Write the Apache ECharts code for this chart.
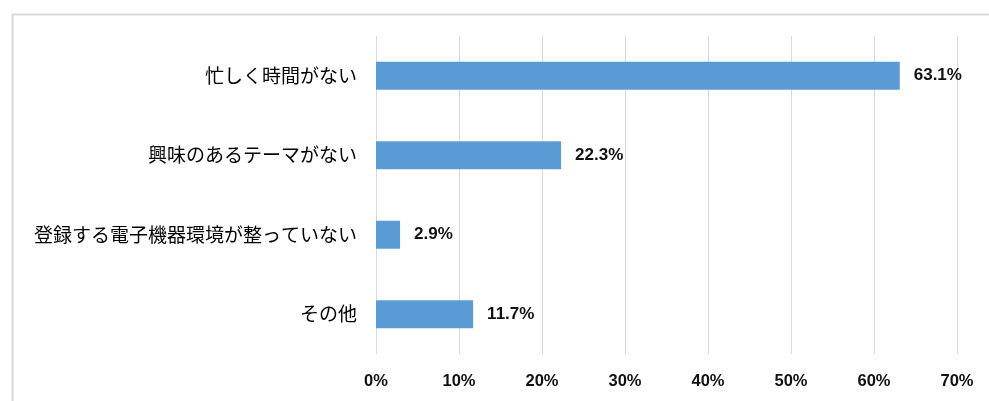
<!DOCTYPE html>
<html><head><meta charset="utf-8">
<script src="https://cdn.jsdelivr.net/npm/echarts@6/dist/echarts.min.js"></script>
<style>html,body{margin:0;padding:0;background:#fff}#c{width:989px;height:401px}</style>
</head><body><div id="c"></div>
<script>
const categories = ['忙しく時間がない','興味のあるテーマがない','登録する電子機器環境が整っていない','その他'];
const values = [63.1, 22.3, 2.9, 11.7];
const tickLabels = ['0%','10%','20%','30%','40%','50%','60%','70%'];

const chart = echarts.init(document.getElementById('c'));
chart.setOption({
  animation: false,
  graphic: [{
    type: 'rect', left: 10, top: 12, shape: {width: 1000, height: 420},
    style: {fill: 'none', stroke: '#d9d9d9', lineWidth: 2}
  }],
  grid: {left: 376, right: 32, top: 36, bottom: 47, containLabel: false},
  xAxis: {
    type: 'value', min: 0, max: 70, interval: 10,
    axisLine: {show: false}, axisTick: {show: false},
    splitLine: {lineStyle: {color: '#d9d9d9', width: 1}},
    axisLabel: {
      formatter: (v) => tickLabels[Math.round(v / 10)],
      fontFamily: 'Liberation Sans', fontWeight: 'bold', fontSize: 16.5, color: '#111', margin: 19
    }
  },
  yAxis: {
    type: 'category', data: categories, inverse: true,
    axisLine: {show: false}, axisTick: {show: false},
    axisLabel: {fontFamily: 'Noto Sans CJK JP', fontSize: 19, color: '#000', margin: 19}
  },
  series: [{
    type: 'bar', data: values, barWidth: 28,
    itemStyle: {color: '#5b9bd5'},
    label: {
      show: true, position: 'right', distance: 14,
      formatter: (p) => p.value.toFixed(1) + '%',
      fontFamily: 'Liberation Sans', fontWeight: 'bold', fontSize: 17, color: '#111'
    }
  }]
});
</script></body></html>
